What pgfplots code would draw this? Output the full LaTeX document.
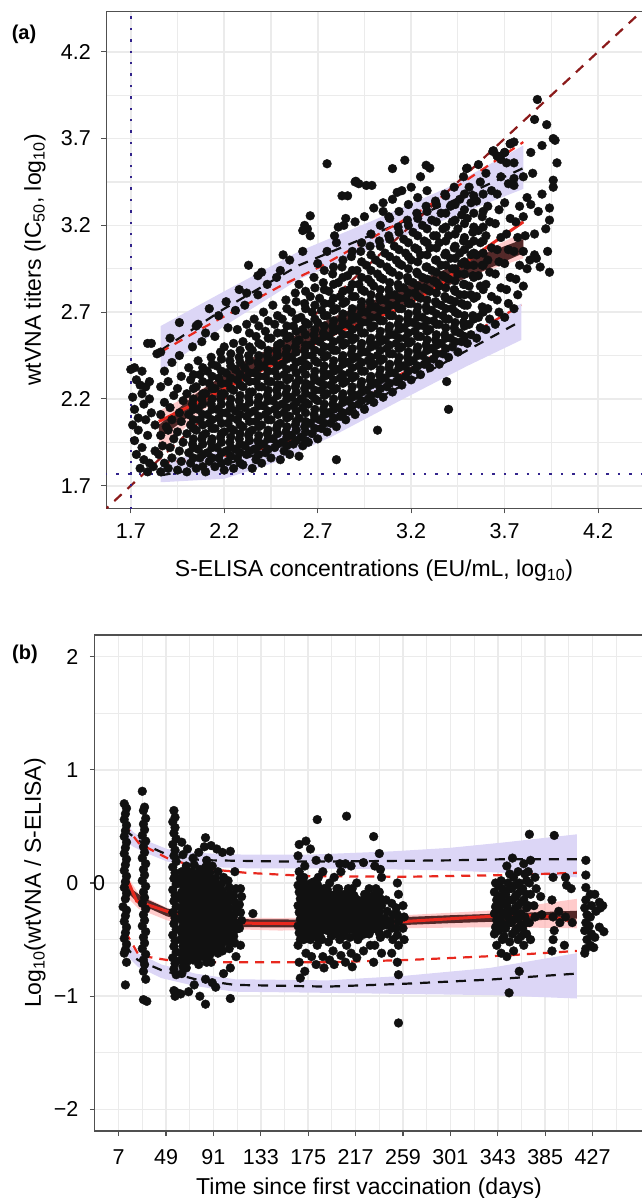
\documentclass[border=0pt]{standalone}
\usepackage{pgfplots}
\pgfplotsset{compat=1.18}
\usepackage{fontspec}
\setmainfont{Liberation Sans}
\definecolor{gridgray}{RGB}{235,235,235}
\definecolor{axgray}{RGB}{80,80,80}
\definecolor{lav}{RGB}{220,214,246}
\definecolor{pinkb}{RGB}{255,185,185}
\definecolor{darkb}{RGB}{66,24,24}
\definecolor{myred}{RGB}{232,40,30}
\definecolor{dred}{RGB}{139,26,26}
\definecolor{dblue}{RGB}{50,35,140}
\definecolor{ptblack}{RGB}{17,17,17}
\pgfplotsset{
  ggaxis/.style={
    scale only axis,
    axis line style={draw=axgray, line width=1.3pt},
    tick align=outside,
    major tick length=5pt,
    minor tick length=0pt,
    tick style={draw=axgray, line width=1.1pt},
    xtick pos=bottom, ytick pos=left,
    grid=both,
    major grid style={draw=gridgray, line width=1.7pt},
    minor grid style={draw=gridgray, line width=1.1pt},
    tick label style={font=\fontsize{21.5}{21.5}\selectfont, text=black},
    clip=true,
  },
  pts/.style={only marks, mark=*, mark size=4.4pt, mark options={draw=ptblack, fill=ptblack}},
  band/.style={draw=none, fill=#1},
  bdash/.style={draw=ptblack, line width=2.2pt, dash pattern=on 10pt off 8pt, no marks},
  rdash/.style={draw=myred, line width=2.2pt, dash pattern=on 9pt off 7pt, no marks},
}
\begin{document}
\begin{tikzpicture}
\useasboundingbox (0,0) rectangle (641pt,1198pt);
% ---------------- Panel (a)
\begin{axis}[ggaxis,
  at={(106.3pt,689.7pt)}, anchor=south west,
  width=541.7pt, height=496.6pt,
  xmin=1.569, xmax=4.467, ymin=1.570, ymax=4.431,
  xtick={1.7,2.2,2.7,3.2,3.7,4.2}, xticklabels={1.7,2.2,2.7,3.2,3.7,4.2},
  ytick={1.7,2.2,2.7,3.2,3.7,4.2}, yticklabels={1.7,2.2,2.7,3.2,3.7,4.2},
  minor xtick={1.95,2.45,2.95,3.45,3.95}, minor ytick={1.95,2.45,2.95,3.45,3.95},
  xticklabel style={yshift=-7pt}, yticklabel style={xshift=-7pt},
]
% lavender bands
\addplot[band=lav] coordinates {(1.86,2.62)(2.2,2.82)(2.6,3.05)(3.0,3.23)(3.4,3.42)(3.8,3.66)(3.8,3.41)(3.4,3.24)(3.0,3.07)(2.6,2.89)(2.2,2.62)(1.86,2.36)} -- cycle;
\addplot[band=lav] coordinates {(1.86,1.85)(2.2,1.90)(2.46,1.99)(2.77,2.14)(3.14,2.35)(3.5,2.57)(3.79,2.75)(3.79,2.54)(3.5,2.39)(3.14,2.19)(2.77,1.98)(2.46,1.83)(2.2,1.74)(1.86,1.72)} -- cycle;
% observations
\addplot[pts] coordinates {
(1.70,2.37)(1.72,2.38)(1.73,2.31)(1.75,2.28)(1.71,2.21)(1.76,2.23)(1.78,2.27)(1.80,2.30)(1.72,2.14)(1.74,2.09)(1.77,2.17)(1.80,2.20)(1.71,2.05)(1.74,2.02)(1.78,2.08)(1.81,2.12)(1.72,1.96)(1.76,1.92)(1.79,1.99)(1.73,1.88)(1.77,1.85)(1.80,1.83)(1.75,1.80)(1.79,1.78)(1.82,1.81)(1.83,1.90)(1.79,2.52)(1.81,2.52)(1.84,2.46)(1.83,2.05)(1.76,2.36)
(1.86,1.78)(1.88,1.83)(1.85,1.88)(1.87,1.93)(1.86,1.99)(1.89,2.04)(1.86,2.11)(1.88,2.18)(1.86,2.27)(1.88,2.36)(1.86,2.47)
(1.90,1.80)(1.92,1.86)(1.91,1.92)(1.93,1.97)(1.90,2.02)(1.92,2.08)(1.91,2.15)(1.93,2.22)(1.90,2.30)(1.92,2.41)(1.91,2.55)
(1.95,1.79)(1.97,1.84)(1.96,1.90)(1.98,1.95)(1.95,2.01)(1.97,2.07)(1.96,2.12)(1.98,2.19)(1.95,2.26)(1.97,2.33)(1.96,2.45)(1.96,2.64)
(2.00,1.78)(2.02,1.83)(2.01,1.89)(2.03,1.94)(2.00,2.00)(2.02,2.05)(2.01,2.11)(2.03,2.17)(2.00,2.23)(2.02,2.31)(2.01,2.38)(2.03,2.50)(2.05,2.62)
(2.05,1.80)(2.07,1.86)(2.06,1.91)(2.08,1.97)(2.05,2.02)(2.07,2.08)(2.06,2.14)(2.08,2.20)(2.05,2.27)(2.07,2.34)(2.06,2.42)(2.08,2.53)(2.06,2.63)
(2.10,1.78)(2.12,1.84)(2.11,1.89)(2.13,1.95)(2.10,2.00)(2.12,2.06)(2.11,2.11)(2.13,2.17)(2.10,2.23)(2.12,2.29)(2.11,2.36)(2.13,2.44)(2.10,2.58)(2.12,2.72)
(2.15,1.81)(2.17,1.86)(2.16,1.92)(2.18,1.98)(2.15,2.03)(2.17,2.09)(2.16,2.14)(2.18,2.20)(2.15,2.26)(2.17,2.32)(2.16,2.39)(2.18,2.47)(2.15,2.56)(2.17,2.68)
(2.20,1.79)(2.22,1.84)(2.21,1.90)(2.23,1.95)(2.20,2.01)(2.22,2.06)(2.21,2.12)(2.23,2.17)(2.20,2.23)(2.22,2.29)(2.21,2.35)(2.23,2.42)(2.20,2.50)(2.22,2.61)(2.21,2.76)
(2.25,1.80)(2.27,1.86)(2.26,1.91)(2.28,1.97)(2.25,2.02)(2.27,2.08)(2.26,2.13)(2.28,2.19)(2.25,2.25)(2.27,2.31)(2.26,2.37)(2.28,2.44)(2.25,2.52)(2.27,2.60)(2.26,2.71)(2.28,2.83)
(2.30,1.82)(2.32,1.88)(2.31,1.93)(2.33,1.99)(2.30,2.04)(2.32,2.10)(2.31,2.15)(2.33,2.21)(2.30,2.27)(2.32,2.32)(2.31,2.38)(2.33,2.45)(2.30,2.53)(2.32,2.63)(2.31,2.74)
(2.35,1.80)(2.37,1.85)(2.36,1.91)(2.38,1.96)(2.35,2.02)(2.37,2.07)(2.36,2.13)(2.38,2.18)(2.35,2.24)(2.37,2.30)(2.36,2.35)(2.38,2.41)(2.35,2.48)(2.37,2.56)(2.36,2.66)(2.38,2.80)
(2.40,1.83)(2.42,1.89)(2.41,1.94)(2.43,2.00)(2.40,2.05)(2.42,2.11)(2.41,2.16)(2.43,2.22)(2.40,2.27)(2.42,2.33)(2.41,2.39)(2.43,2.45)(2.40,2.51)(2.42,2.59)(2.41,2.70)(2.43,2.86)
(2.45,1.86)(2.47,1.92)(2.46,1.97)(2.48,2.03)(2.45,2.08)(2.47,2.14)(2.46,2.19)(2.48,2.25)(2.45,2.30)(2.47,2.36)(2.46,2.42)(2.48,2.48)(2.45,2.55)(2.47,2.63)(2.46,2.74)(2.48,2.90)
(2.50,1.85)(2.52,1.90)(2.51,1.95)(2.53,2.01)(2.50,2.06)(2.52,2.12)(2.51,2.17)(2.53,2.23)(2.50,2.28)(2.52,2.34)(2.51,2.40)(2.53,2.46)(2.50,2.52)(2.52,2.58)(2.51,2.66)(2.53,2.77)(2.50,2.94)
(2.55,1.88)(2.57,1.94)(2.56,1.99)(2.58,2.05)(2.55,2.10)(2.57,2.16)(2.56,2.21)(2.58,2.27)(2.55,2.32)(2.57,2.38)(2.56,2.44)(2.58,2.50)(2.55,2.56)(2.57,2.62)(2.56,2.70)(2.58,2.81)(2.55,3.00)
(2.60,1.87)(2.62,1.93)(2.61,1.98)(2.63,2.04)(2.60,2.09)(2.62,2.15)(2.61,2.20)(2.63,2.26)(2.60,2.31)(2.62,2.37)(2.61,2.42)(2.63,2.48)(2.60,2.54)(2.62,2.60)(2.61,2.67)(2.63,2.75)(2.60,2.86)(2.62,3.05)
(2.65,1.95)(2.67,2.00)(2.66,2.06)(2.68,2.11)(2.65,2.17)(2.67,2.22)(2.66,2.28)(2.68,2.33)(2.65,2.39)(2.67,2.45)(2.66,2.51)(2.68,2.57)(2.65,2.63)(2.67,2.70)(2.66,2.79)(2.68,2.90)
(2.70,1.97)(2.72,2.03)(2.71,2.08)(2.73,2.14)(2.70,2.19)(2.72,2.25)(2.71,2.30)(2.73,2.36)(2.70,2.41)(2.72,2.47)(2.71,2.53)(2.73,2.58)(2.70,2.64)(2.72,2.71)(2.71,2.78)(2.73,2.87)(2.70,2.98)
(2.80,1.85)(2.75,2.01)(2.77,2.06)(2.76,2.12)(2.78,2.17)(2.75,2.23)(2.77,2.28)(2.76,2.34)(2.78,2.39)(2.75,2.45)(2.77,2.50)(2.76,2.56)(2.78,2.62)(2.75,2.68)(2.77,2.75)(2.76,2.82)(2.78,2.92)(2.75,3.05)
(2.80,2.04)(2.82,2.10)(2.81,2.15)(2.83,2.21)(2.80,2.26)(2.82,2.32)(2.81,2.37)(2.83,2.43)(2.80,2.48)(2.82,2.54)(2.81,2.60)(2.83,2.66)(2.80,2.72)(2.82,2.79)(2.81,2.87)(2.83,2.96)(2.80,3.10)
(2.85,2.08)(2.87,2.13)(2.86,2.19)(2.88,2.24)(2.85,2.30)(2.87,2.35)(2.86,2.41)(2.88,2.46)(2.85,2.52)(2.87,2.57)(2.86,2.63)(2.88,2.69)(2.85,2.76)(2.87,2.83)(2.86,2.91)(2.88,3.02)
(2.90,2.11)(2.92,2.17)(2.91,2.22)(2.93,2.28)(2.90,2.33)(2.92,2.39)(2.91,2.44)(2.93,2.50)(2.90,2.55)(2.92,2.61)(2.91,2.67)(2.93,2.73)(2.90,2.79)(2.92,2.86)(2.91,2.94)(2.93,3.05)(2.90,3.22)
(2.95,2.14)(2.97,2.20)(2.96,2.25)(2.98,2.31)(2.95,2.36)(2.97,2.42)(2.96,2.47)(2.98,2.53)(2.95,2.58)(2.97,2.64)(2.96,2.70)(2.98,2.76)(2.95,2.82)(2.97,2.89)(2.96,2.97)(2.98,3.08)(2.95,3.25)
(3.02,2.02)(3.00,2.18)(3.02,2.23)(3.01,2.29)(3.03,2.34)(3.00,2.40)(3.02,2.45)(3.01,2.51)(3.03,2.56)(3.00,2.62)(3.02,2.67)(3.01,2.73)(3.03,2.79)(3.00,2.85)(3.02,2.92)(3.01,3.00)(3.03,3.11)(3.00,3.30)
(3.05,2.21)(3.07,2.27)(3.06,2.32)(3.08,2.38)(3.05,2.43)(3.07,2.49)(3.06,2.54)(3.08,2.60)(3.05,2.65)(3.07,2.71)(3.06,2.77)(3.08,2.83)(3.05,2.89)(3.07,2.96)(3.06,3.04)(3.08,3.14)(3.05,3.28)
(3.10,2.24)(3.12,2.30)(3.11,2.35)(3.13,2.41)(3.10,2.46)(3.12,2.52)(3.11,2.57)(3.13,2.63)(3.10,2.68)(3.12,2.74)(3.11,2.80)(3.13,2.86)(3.10,2.93)(3.12,3.00)(3.11,3.08)(3.13,3.19)(3.10,3.35)
(3.15,2.28)(3.17,2.33)(3.16,2.39)(3.18,2.44)(3.15,2.50)(3.17,2.55)(3.16,2.61)(3.18,2.66)(3.15,2.72)(3.17,2.78)(3.16,2.84)(3.18,2.90)(3.15,2.97)(3.17,3.04)(3.16,3.12)(3.18,3.23)(3.15,3.40)
(3.20,2.31)(3.22,2.37)(3.21,2.42)(3.23,2.48)(3.20,2.53)(3.22,2.59)(3.21,2.64)(3.23,2.70)(3.20,2.75)(3.22,2.81)(3.21,2.87)(3.23,2.93)(3.20,3.00)(3.22,3.07)(3.21,3.16)(3.23,3.27)(3.20,3.42)
(3.25,2.34)(3.27,2.40)(3.26,2.45)(3.28,2.51)(3.25,2.56)(3.27,2.62)(3.26,2.67)(3.28,2.73)(3.25,2.78)(3.27,2.84)(3.26,2.90)(3.28,2.96)(3.25,3.03)(3.27,3.11)(3.26,3.20)(3.28,3.31)(3.25,3.48)
(3.30,2.38)(3.32,2.43)(3.31,2.49)(3.33,2.54)(3.30,2.60)(3.32,2.65)(3.31,2.71)(3.33,2.76)(3.30,2.82)(3.32,2.88)(3.31,2.94)(3.33,3.00)(3.30,3.07)(3.32,3.14)(3.31,3.23)(3.33,3.34)(3.30,3.53)
(3.35,2.40)(3.37,2.46)(3.36,2.52)(3.38,2.57)(3.35,2.63)(3.37,2.68)(3.36,2.74)(3.38,2.79)(3.35,2.85)(3.37,2.91)(3.36,2.97)(3.38,3.03)(3.35,3.10)(3.37,3.18)(3.36,3.27)(3.38,3.38)
(3.40,2.14)(3.39,2.30)(3.40,2.44)(3.42,2.50)(3.41,2.55)(3.43,2.61)(3.40,2.66)(3.42,2.72)(3.41,2.77)(3.43,2.83)(3.40,2.89)(3.42,2.95)(3.41,3.01)(3.43,3.07)(3.40,3.14)(3.42,3.22)(3.41,3.31)(3.43,3.42)
(3.45,2.47)(3.47,2.53)(3.46,2.58)(3.48,2.64)(3.45,2.69)(3.47,2.75)(3.46,2.80)(3.48,2.86)(3.45,2.92)(3.47,2.98)(3.46,3.04)(3.48,3.11)(3.45,3.18)(3.47,3.26)(3.46,3.35)(3.48,3.48)
(3.50,2.52)(3.52,2.57)(3.51,2.63)(3.53,2.68)(3.50,2.74)(3.52,2.80)(3.51,2.85)(3.53,2.91)(3.50,2.97)(3.52,3.03)(3.51,3.09)(3.53,3.16)(3.50,3.24)(3.52,3.33)(3.51,3.42)(3.50,3.53)
(3.55,2.55)(3.57,2.61)(3.56,2.67)(3.58,2.73)(3.55,2.79)(3.57,2.85)(3.56,2.91)(3.58,2.97)(3.55,3.03)(3.57,3.10)(3.56,3.17)(3.58,3.25)(3.55,3.34)(3.57,3.45)(3.56,3.55)
(3.60,2.60)(3.62,2.66)(3.61,2.72)(3.63,2.79)(3.60,2.86)(3.62,2.93)(3.61,3.00)(3.63,3.07)(3.60,3.14)(3.62,3.22)(3.61,3.31)(3.63,3.40)(3.60,3.50)(3.64,3.63)
(3.65,2.63)(3.67,2.70)(3.66,2.77)(3.68,2.84)(3.65,2.92)(3.67,2.99)(3.66,3.06)(3.68,3.13)(3.65,3.21)(3.67,3.29)(3.66,3.38)(3.68,3.48)(3.66,3.60)(3.68,3.58)
(3.70,2.67)(3.72,2.75)(3.71,2.83)(3.73,2.90)(3.70,2.98)(3.72,3.06)(3.71,3.15)(3.73,3.24)(3.70,3.33)(3.72,3.44)(3.71,3.56)(3.70,3.62)(3.73,3.67)
(3.75,2.72)(3.77,2.80)(3.76,2.89)(3.78,2.97)(3.75,3.05)(3.77,3.13)(3.76,3.22)(3.78,3.31)(3.75,3.43)(3.75,3.47)(3.75,3.56)(3.75,3.68)
(3.80,2.85)(3.82,2.95)(3.80,3.05)(3.81,3.14)(3.80,3.25)(3.82,3.36)(3.80,3.48)
(3.875,3.925)(3.86,3.81)(3.925,3.78)(3.90,3.66)(3.96,3.70)(3.97,3.69)(3.98,3.56)(3.84,3.62)(3.85,3.50)(3.90,3.38)(3.96,3.46)(3.96,3.42)(3.94,3.30)(3.94,3.23)(3.86,3.15)(3.94,2.93)(3.86,3.03)(3.835,3.00)(3.87,3.01)(3.93,3.05)(3.88,3.28)(3.84,3.32)(3.92,3.18)(3.89,2.96)
(2.63,3.20)(2.62,3.17)(2.645,3.18)(2.66,3.255)(2.66,3.14)(2.75,3.555)(2.90,3.45)(2.92,3.44)(2.83,3.37)(2.81,3.19)(2.84,3.20)(2.85,3.24)(2.79,3.14)(2.515,3.03)(2.33,2.97)(2.40,2.93)(2.38,2.91)(2.32,2.81)(3.166,3.575)(3.10,3.527)(3.28,3.546)(2.904,3.454)(2.86,3.37)(2.96,3.43)(2.99,3.43)(3.125,3.39)(3.05,3.33)(3.08,3.25)(3.496,3.527)(3.637,3.626)(3.66,3.60)(3.70,3.62)(3.73,3.67)
(2.035,1.86)(2.035,1.92)(2.035,1.97)(2.035,2.03)(2.035,2.08)(2.035,2.14)(2.035,2.20)(2.035,2.26)(2.035,2.34)
(2.085,1.81)(2.085,1.88)(2.085,1.94)(2.085,1.99)(2.085,2.05)(2.085,2.11)(2.085,2.17)(2.085,2.23)(2.085,2.30)(2.085,2.38)
(2.135,1.86)(2.135,1.92)(2.135,1.97)(2.135,2.03)(2.135,2.08)(2.135,2.14)(2.135,2.20)(2.135,2.26)(2.135,2.33)(2.135,2.40)
(2.185,1.83)(2.185,1.89)(2.185,1.95)(2.185,2.00)(2.185,2.06)(2.185,2.12)(2.185,2.17)(2.185,2.23)(2.185,2.29)(2.185,2.36)(2.185,2.43)
(2.235,1.87)(2.235,1.92)(2.235,1.98)(2.235,2.03)(2.235,2.09)(2.235,2.15)(2.235,2.20)(2.235,2.26)(2.235,2.32)(2.235,2.39)(2.235,2.46)
(2.285,1.83)(2.285,1.89)(2.285,1.94)(2.285,2.00)(2.285,2.05)(2.285,2.11)(2.285,2.16)(2.285,2.22)(2.285,2.28)(2.285,2.34)(2.285,2.41)(2.285,2.48)
(2.335,1.90)(2.335,1.96)(2.335,2.01)(2.335,2.07)(2.335,2.12)(2.335,2.18)(2.335,2.24)(2.335,2.30)(2.335,2.35)(2.335,2.42)(2.335,2.50)(2.335,2.58)
(2.385,1.88)(2.385,1.93)(2.385,1.99)(2.385,2.04)(2.385,2.10)(2.385,2.16)(2.385,2.21)(2.385,2.27)(2.385,2.33)(2.385,2.38)(2.385,2.45)(2.385,2.52)(2.385,2.62)
(2.435,1.91)(2.435,1.97)(2.435,2.02)(2.435,2.08)(2.435,2.13)(2.435,2.19)(2.435,2.25)(2.435,2.30)(2.435,2.36)(2.435,2.42)(2.435,2.48)(2.435,2.55)(2.435,2.65)
(2.485,1.94)(2.485,2.00)(2.485,2.05)(2.485,2.11)(2.485,2.16)(2.485,2.22)(2.485,2.28)(2.485,2.33)(2.485,2.39)(2.485,2.45)(2.485,2.51)(2.485,2.58)(2.485,2.68)
(2.535,1.93)(2.535,1.98)(2.535,2.04)(2.535,2.09)(2.535,2.15)(2.535,2.20)(2.535,2.26)(2.535,2.31)(2.535,2.37)(2.535,2.43)(2.535,2.49)(2.535,2.55)(2.535,2.62)(2.535,2.72)
(2.585,1.96)(2.585,2.02)(2.585,2.07)(2.585,2.13)(2.585,2.18)(2.585,2.24)(2.585,2.29)(2.585,2.35)(2.585,2.41)(2.585,2.47)(2.585,2.53)(2.585,2.59)(2.585,2.66)(2.585,2.76)
(2.635,1.96)(2.635,2.01)(2.635,2.07)(2.635,2.12)(2.635,2.18)(2.635,2.23)(2.635,2.29)(2.635,2.34)(2.635,2.40)(2.635,2.45)(2.635,2.51)(2.635,2.57)(2.635,2.64)(2.635,2.72)(2.635,2.82)
(2.685,2.03)(2.685,2.09)(2.685,2.14)(2.685,2.20)(2.685,2.25)(2.685,2.31)(2.685,2.36)(2.685,2.42)(2.685,2.48)(2.685,2.54)(2.685,2.60)(2.685,2.66)(2.685,2.74)(2.685,2.84)
(2.735,2.06)(2.735,2.11)(2.735,2.17)(2.735,2.22)(2.735,2.28)(2.735,2.33)(2.735,2.39)(2.735,2.44)(2.735,2.50)(2.735,2.56)(2.735,2.62)(2.735,2.68)(2.735,2.75)(2.735,2.83)(2.735,2.94)
(2.785,2.09)(2.785,2.14)(2.785,2.20)(2.785,2.25)(2.785,2.31)(2.785,2.36)(2.785,2.42)(2.785,2.48)(2.785,2.53)(2.785,2.59)(2.785,2.65)(2.785,2.71)(2.785,2.78)(2.785,2.86)(2.785,2.96)
(2.835,2.12)(2.835,2.18)(2.835,2.23)(2.835,2.29)(2.835,2.34)(2.835,2.40)(2.835,2.45)(2.835,2.51)(2.835,2.57)(2.835,2.63)(2.835,2.69)(2.835,2.75)(2.835,2.82)(2.835,2.90)(2.835,3.00)
(2.885,2.16)(2.885,2.21)(2.885,2.27)(2.885,2.32)(2.885,2.38)(2.885,2.43)(2.885,2.49)(2.885,2.54)(2.885,2.60)(2.885,2.66)(2.885,2.72)(2.885,2.79)(2.885,2.86)(2.885,2.94)(2.885,3.05)
(2.935,2.19)(2.935,2.24)(2.935,2.30)(2.935,2.36)(2.935,2.41)(2.935,2.47)(2.935,2.52)(2.935,2.58)(2.935,2.64)(2.935,2.70)(2.935,2.76)(2.935,2.83)(2.935,2.90)(2.935,2.99)(2.935,3.10)
(2.985,2.22)(2.985,2.28)(2.985,2.33)(2.985,2.39)(2.985,2.44)(2.985,2.50)(2.985,2.55)(2.985,2.61)(2.985,2.67)(2.985,2.73)(2.985,2.80)(2.985,2.87)(2.985,2.94)(2.985,3.03)(2.985,3.15)
(3.035,2.26)(3.035,2.31)(3.035,2.37)(3.035,2.42)(3.035,2.48)(3.035,2.53)(3.035,2.59)(3.035,2.65)(3.035,2.71)(3.035,2.77)(3.035,2.83)(3.035,2.90)(3.035,2.98)(3.035,3.08)(3.035,3.20)
(3.085,2.29)(3.085,2.35)(3.085,2.40)(3.085,2.46)(3.085,2.51)(3.085,2.57)(3.085,2.62)(3.085,2.68)(3.085,2.74)(3.085,2.80)(3.085,2.87)(3.085,2.94)(3.085,3.02)(3.085,3.12)(3.085,3.24)
(3.135,2.32)(3.135,2.38)(3.135,2.44)(3.135,2.49)(3.135,2.55)(3.135,2.60)(3.135,2.66)(3.135,2.72)(3.135,2.78)(3.135,2.84)(3.135,2.91)(3.135,2.98)(3.135,3.06)(3.135,3.16)(3.135,3.28)
(3.185,2.36)(3.185,2.41)(3.185,2.47)(3.185,2.52)(3.185,2.58)(3.185,2.64)(3.185,2.69)(3.185,2.75)(3.185,2.81)(3.185,2.88)(3.185,2.95)(3.185,3.02)(3.185,3.10)(3.185,3.20)(3.185,3.32)
(3.235,2.39)(3.235,2.45)(3.235,2.50)(3.235,2.56)(3.235,2.62)(3.235,2.67)(3.235,2.73)(3.235,2.79)(3.235,2.85)(3.235,2.92)(3.235,2.99)(3.235,3.06)(3.235,3.14)(3.235,3.24)(3.235,3.36)
(3.285,2.42)(3.285,2.48)(3.285,2.54)(3.285,2.59)(3.285,2.65)(3.285,2.71)(3.285,2.77)(3.285,2.83)(3.285,2.89)(3.285,2.96)(3.285,3.03)(3.285,3.10)(3.285,3.18)(3.285,3.28)(3.285,3.40)
(3.335,2.46)(3.335,2.51)(3.335,2.57)(3.335,2.63)(3.335,2.69)(3.335,2.75)(3.335,2.81)(3.335,2.87)(3.335,2.93)(3.335,3.00)(3.335,3.07)(3.335,3.14)(3.335,3.22)(3.335,3.32)
(3.385,2.49)(3.385,2.55)(3.385,2.61)(3.385,2.66)(3.385,2.72)(3.385,2.78)(3.385,2.84)(3.385,2.90)(3.385,2.97)(3.385,3.04)(3.385,3.11)(3.385,3.19)(3.385,3.27)(3.385,3.37)
(3.435,2.53)(3.435,2.59)(3.435,2.64)(3.435,2.70)(3.435,2.76)(3.435,2.82)(3.435,2.88)(3.435,2.95)(3.435,3.01)(3.435,3.08)(3.435,3.15)(3.435,3.23)(3.435,3.32)
(3.485,2.56)(3.485,2.62)(3.485,2.68)(3.485,2.74)(3.485,2.80)(3.485,2.86)(3.485,2.92)(3.485,2.99)(3.485,3.06)(3.485,3.13)(3.485,3.21)(3.485,3.29)(3.485,3.38)
(3.535,2.66)(3.535,2.78)(3.535,2.90)(3.535,2.97)(3.535,3.04)(3.535,3.11)(3.535,3.19)(3.535,3.27)(3.535,3.37)
(3.585,2.70)(3.585,2.83)(3.585,2.97)(3.585,3.04)(3.585,3.11)(3.585,3.19)(3.585,3.28)(3.585,3.38)
};
% model CI bands
\addplot[band=pinkb, fill opacity=0.75] coordinates {(1.85,2.13)(2.05,2.24)(2.28,2.39)(2.55,2.54)(2.82,2.68)(3.05,2.78)(3.3,2.90)(3.55,3.03)(3.8,3.16)(3.8,3.01)(3.55,2.92)(3.3,2.82)(3.05,2.70)(2.82,2.60)(2.55,2.46)(2.28,2.30)(2.05,2.10)(1.85,1.88)} -- cycle;
\addplot[band=darkb, fill opacity=0.9] coordinates {(1.85,2.05)(2.05,2.23)(2.28,2.40)(2.55,2.55)(2.82,2.69)(3.05,2.79)(3.3,2.91)(3.55,3.02)(3.8,3.12)(3.8,3.04)(3.55,2.92)(3.3,2.81)(3.05,2.69)(2.82,2.59)(2.55,2.45)(2.28,2.30)(2.05,2.13)(1.85,1.97)} -- cycle;
% prediction interval lines
\addplot[bdash] coordinates {(1.86,2.48)(2.2,2.72)(2.6,2.97)(3.0,3.15)(3.4,3.33)(3.8,3.53)};
\addplot[bdash] coordinates {(1.86,1.76)(2.2,1.82)(2.46,1.91)(2.77,2.06)(3.14,2.27)(3.5,2.48)(3.79,2.65)};
\addplot[rdash] coordinates {(1.86,2.47)(2.07,2.6)(2.5,2.85)(2.71,2.96)(3.26,3.29)(3.8,3.68)};
\addplot[rdash] coordinates {(1.86,1.83)(2.2,1.87)(2.46,1.925)(2.67,2.02)(2.9,2.16)(3.14,2.34)(3.53,2.58)(3.79,2.74)};
\addplot[draw=myred, line width=3pt, no marks] coordinates {(1.85,2.07)(2.28,2.30)(2.82,2.59)(3.14,2.72)(3.35,2.85)(3.48,2.98)(3.8,3.22)};
% reference lines
\addplot[draw=dred, line width=2.2pt, dash pattern=on 10pt off 8pt, no marks] coordinates {(1.4,1.4)(4.6,4.6)};
\addplot[draw=dblue, line width=2.4pt, dash pattern=on 2.4pt off 9pt, no marks] coordinates {(1.7,1.5)(1.7,4.5)};
\addplot[draw=dblue, line width=2.4pt, dash pattern=on 2.4pt off 9pt, no marks] coordinates {(1.5,1.766)(4.5,1.766)};
\end{axis}
% ---------------- Panel (b)
\begin{axis}[ggaxis,
  at={(94.8pt,67pt)}, anchor=south west,
  width=553.2pt, height=496pt,
  xmin=-14.1, xmax=476.1, ymin=-2.19, ymax=2.19,
  xtick={7,49,91,133,175,217,259,301,343,385,427},
  xticklabels={7,49,91,133,175,217,259,301,343,385,427},
  ytick={-2,-1,0,1,2}, yticklabels={−2,−1,0,1,2},
  minor xtick={28,70,112,154,196,238,280,322,364,406,448}, minor ytick={-1.5,-0.5,0.5,1.5},
  xticklabel style={yshift=-10pt}, yticklabel style={xshift=-8pt},
]
\addplot[band=lav] coordinates {(12,0.55)(20,0.45)(30,0.38)(50,0.30)(70,0.27)(90,0.26)(120,0.25)(175,0.25)(250,0.28)(300,0.31)(350,0.36)(413,0.43)(413,0.05)(350,0.09)(300,0.11)(250,0.12)(175,0.13)(120,0.13)(90,0.14)(70,0.15)(50,0.19)(30,0.27)(20,0.32)(12,0.38)} -- cycle;
\addplot[band=lav] coordinates {(12,-0.50)(24,-0.62)(45,-0.72)(75,-0.80)(110,-0.85)(192,-0.86)(260,-0.82)(336,-0.75)(413,-0.62)(413,-1.02)(336,-0.99)(260,-0.98)(192,-0.97)(110,-0.96)(75,-0.91)(45,-0.84)(24,-0.74)(12,-0.62)} -- cycle;
\addplot[pts] coordinates {
(12,0.70)(14,0.66)(13,0.61)(12,0.56)(14,0.51)(13,0.46)(12,0.41)(14,0.36)(13,0.31)(12,0.26)(14,0.21)(13,0.16)(12,0.11)(14,0.06)(13,0.01)(12,-0.04)(14,-0.09)(13,-0.14)(11,-0.21)(14,-0.24)(13,-0.29)(12,-0.34)(14,-0.39)(13,-0.44)(12,-0.49)(14,-0.54)(13,-0.59)(12,-0.62)(14,-0.70)(13,-0.90)
(28,0.81)(30,0.67)(29,0.64)(31,0.57)(29,0.52)(30,0.47)(28,0.42)(31,0.37)(29,0.32)(30,0.27)(28,0.22)(31,0.17)(29,0.12)(30,0.07)(28,0.02)(31,-0.03)(29,-0.08)(30,-0.13)(28,-0.18)(31,-0.23)(29,-0.28)(30,-0.33)(28,-0.38)(31,-0.43)(29,-0.48)(30,-0.53)(28,-0.58)(31,-0.63)(29,-0.68)(30,-0.72)(29,-0.78)(31,-0.85)(29,-1.03)(32,-1.045)
(56,0.64)(57,0.58)(55,0.54)(57,0.49)(56,0.44)(58,0.39)(55,0.34)(57,0.29)(56,0.24)(58,0.19)(55,0.14)(57,0.09)(56,0.04)(58,-0.01)(55,-0.06)(57,-0.11)(56,-0.16)(58,-0.21)(55,-0.26)(57,-0.31)(56,-0.36)(58,-0.41)(55,-0.46)(57,-0.51)(56,-0.56)(58,-0.61)(55,-0.66)(57,-0.71)(56,-0.76)(58,-0.81)(56,-0.95)(57,-1.00)(59,-0.97)
(63,0.36)(64,0.25)(63,0.10)(62,0.04)(64,-0.02)(63,-0.08)(62,-0.14)(64,-0.20)(63,-0.26)(62,-0.32)(64,-0.38)(63,-0.44)(62,-0.50)(64,-0.56)(63,-0.62)(62,-0.68)(64,-0.74)(63,-0.80)(62,-0.98)
(68,0.30)(67,0.15)(69,0.09)(68,0.03)(67,-0.03)(69,-0.09)(68,-0.15)(67,-0.21)(69,-0.27)(68,-0.33)(67,-0.39)(69,-0.45)(68,-0.51)(67,-0.57)(69,-0.63)(68,-0.69)(67,-0.75)(69,-0.96)
(73,0.22)(74,0.16)(72,0.10)(73,0.04)(74,-0.02)(72,-0.08)(73,-0.14)(74,-0.20)(72,-0.26)(73,-0.32)(74,-0.38)(72,-0.44)(73,-0.50)(74,-0.56)(72,-0.62)(73,-0.68)(74,-0.90)
(78,0.27)(79,0.12)(77,0.06)(78,0.00)(79,-0.06)(77,-0.12)(78,-0.18)(79,-0.24)(77,-0.30)(78,-0.36)(79,-0.42)(77,-0.48)(78,-0.54)(79,-0.60)(77,-0.66)(78,-0.72)(79,-1.00)
(84,0.40)(83,0.32)(85,0.20)(84,0.14)(83,0.08)(85,0.02)(84,-0.04)(83,-0.10)(85,-0.16)(84,-0.22)(83,-0.28)(85,-0.34)(84,-0.40)(83,-0.46)(85,-0.52)(84,-0.58)(83,-0.64)(85,-0.70)(84,-0.85)(84,-1.07)
(89,0.33)(90,0.15)(88,0.09)(89,0.03)(90,-0.03)(88,-0.09)(89,-0.15)(90,-0.21)(88,-0.27)(89,-0.33)(90,-0.39)(88,-0.45)(89,-0.51)(90,-0.57)(88,-0.63)(89,-0.70)(90,-0.88)
(94,0.30)(95,0.10)(93,0.04)(94,-0.02)(95,-0.08)(93,-0.14)(94,-0.20)(95,-0.26)(93,-0.32)(94,-0.38)(95,-0.44)(93,-0.50)(94,-0.56)(95,-0.62)(93,-0.92)
(99,0.27)(100,0.05)(98,-0.01)(99,-0.07)(100,-0.13)(98,-0.19)(99,-0.25)(100,-0.31)(98,-0.37)(99,-0.43)(100,-0.49)(98,-0.55)(99,-0.60)(100,-0.80)
(106,0.28)(104,0.02)(105,-0.04)(106,-0.10)(104,-0.16)(105,-0.22)(106,-0.28)(104,-0.34)(105,-0.40)(106,-0.46)(104,-0.52)(105,-0.58)(106,-0.75)(106,-1.02)
(110,0.10)(111,-0.05)(109,-0.11)(110,-0.17)(111,-0.23)(109,-0.29)(110,-0.35)(111,-0.41)(109,-0.47)(110,-0.53)(111,-0.65)
(115,-0.05)(116,-0.12)(114,-0.19)(115,-0.26)(116,-0.33)(114,-0.40)(115,-0.55)(126,-0.27)
(65.5,0.07)(65.5,0.01)(65.5,-0.05)(65.5,-0.11)(65.5,-0.17)(65.5,-0.23)(65.5,-0.29)(65.5,-0.35)(65.5,-0.41)(65.5,-0.47)(65.5,-0.53)(65.5,-0.59)(65.5,-0.65)
(70.5,0.07)(70.5,0.01)(70.5,-0.05)(70.5,-0.11)(70.5,-0.17)(70.5,-0.23)(70.5,-0.29)(70.5,-0.35)(70.5,-0.41)(70.5,-0.47)(70.5,-0.53)(70.5,-0.59)(70.5,-0.65)
(75.5,0.07)(75.5,0.01)(75.5,-0.05)(75.5,-0.11)(75.5,-0.17)(75.5,-0.23)(75.5,-0.29)(75.5,-0.35)(75.5,-0.41)(75.5,-0.47)(75.5,-0.53)(75.5,-0.59)(75.5,-0.65)
(81,0.07)(81,0.01)(81,-0.05)(81,-0.11)(81,-0.17)(81,-0.23)(81,-0.29)(81,-0.35)(81,-0.41)(81,-0.47)(81,-0.53)(81,-0.59)(81,-0.65)
(86.5,0.07)(86.5,0.01)(86.5,-0.05)(86.5,-0.11)(86.5,-0.17)(86.5,-0.23)(86.5,-0.29)(86.5,-0.35)(86.5,-0.41)(86.5,-0.47)(86.5,-0.53)(86.5,-0.59)(86.5,-0.65)
(91.5,0.01)(91.5,-0.05)(91.5,-0.11)(91.5,-0.17)(91.5,-0.23)(91.5,-0.29)(91.5,-0.35)(91.5,-0.41)(91.5,-0.47)(91.5,-0.53)(91.5,-0.59)
(96.5,-0.05)(96.5,-0.11)(96.5,-0.17)(96.5,-0.23)(96.5,-0.29)(96.5,-0.35)(96.5,-0.41)(96.5,-0.47)(96.5,-0.53)
(102,-0.11)(102,-0.17)(102,-0.23)(102,-0.29)(102,-0.35)(102,-0.41)(102,-0.47)
(167,0.34)(166,0.24)(167,0.10)(168,0.04)(166,-0.02)(167,-0.08)(168,-0.14)(166,-0.20)(167,-0.26)(168,-0.32)(166,-0.38)(167,-0.44)(168,-0.50)(166,-0.55)(167,-0.70)(168,-0.84)
(173,0.37)(172,0.15)(171,0.05)(173,-0.01)(172,-0.07)(171,-0.13)(173,-0.19)(172,-0.25)(171,-0.31)(173,-0.37)(172,-0.43)(171,-0.50)(173,-0.62)(172,-0.78)
(177,0.30)(178,0.00)(176,-0.06)(177,-0.12)(178,-0.18)(176,-0.24)(177,-0.30)(178,-0.36)(176,-0.42)(177,-0.50)(178,-0.65)
(183,0.56)(182,0.20)(184,0.05)(183,-0.01)(182,-0.07)(184,-0.13)(183,-0.19)(182,-0.25)(184,-0.31)(183,-0.37)(182,-0.43)(184,-0.49)(183,-0.55)(182,-0.72)
(188,0.10)(189,-0.05)(187,-0.11)(188,-0.17)(189,-0.23)(187,-0.29)(188,-0.35)(189,-0.41)(187,-0.50)(188,-0.65)(189,-0.75)
(193,0.22)(194,0.00)(192,-0.06)(193,-0.12)(194,-0.18)(192,-0.24)(193,-0.30)(194,-0.36)(192,-0.42)(193,-0.52)(194,-0.68)
(198,0.05)(199,-0.10)(197,-0.16)(198,-0.22)(199,-0.28)(197,-0.34)(198,-0.40)(199,-0.45)(197,-0.60)(198,-0.72)
(203,0.17)(204,0.10)(202,-0.05)(203,-0.11)(204,-0.17)(202,-0.23)(203,-0.29)(204,-0.35)(202,-0.41)(203,-0.50)(204,-0.64)
(209,0.59)(208,0.17)(207,-0.10)(209,-0.16)(208,-0.22)(207,-0.28)(209,-0.34)(208,-0.40)(207,-0.46)(209,-0.55)(208,-0.70)
(213,0.15)(214,-0.05)(212,-0.11)(213,-0.17)(214,-0.23)(212,-0.29)(213,-0.35)(214,-0.41)(212,-0.48)(213,-0.62)(214,-0.74)
(218,0.00)(219,-0.15)(217,-0.21)(218,-0.27)(219,-0.33)(217,-0.39)(218,-0.45)(219,-0.50)(218,-0.66)
(224,0.18)(225,-0.10)(223,-0.16)(224,-0.22)(225,-0.28)(223,-0.34)(224,-0.40)(225,-0.45)(224,-0.60)
(229,-0.05)(230,-0.15)(228,-0.21)(229,-0.27)(230,-0.33)(228,-0.39)(229,-0.45)(230,-0.55)
(233,0.41)(234,0.15)(235,-0.05)(233,-0.11)(234,-0.17)(235,-0.23)(233,-0.29)(234,-0.35)(235,-0.40)(234,-0.55)(233,-0.70)
(238,0.26)(239,0.12)(240,0.05)(238,-0.08)(239,-0.14)(240,-0.20)(238,-0.26)(239,-0.32)(240,-0.38)(238,-0.44)(239,-0.48)(240,-0.62)
(244,-0.15)(245,-0.25)(243,-0.31)(244,-0.37)(245,-0.45)
(249,-0.18)(250,-0.28)(248,-0.34)(249,-0.40)(250,-0.50)(249,-0.62)
(254,0.00)(255,-0.10)(253,-0.22)(254,-0.28)(255,-0.34)(253,-0.40)(254,-0.46)(255,-0.55)(254,-0.70)(255,-0.81)(255,-1.236)
(259,-0.20)(260,-0.30)(259,-0.40)(260,-0.50)
(169.5,0.01)(169.5,-0.05)(169.5,-0.11)(169.5,-0.17)(169.5,-0.23)(169.5,-0.29)(169.5,-0.35)(169.5,-0.41)(169.5,-0.47)
(174.5,-0.05)(174.5,-0.11)(174.5,-0.17)(174.5,-0.23)(174.5,-0.29)(174.5,-0.35)(174.5,-0.41)(174.5,-0.47)
(180,0.01)(180,-0.05)(180,-0.11)(180,-0.17)(180,-0.23)(180,-0.29)(180,-0.35)(180,-0.41)(180,-0.47)
(185.5,-0.05)(185.5,-0.11)(185.5,-0.17)(185.5,-0.23)(185.5,-0.29)(185.5,-0.35)(185.5,-0.41)(185.5,-0.47)
(190.5,-0.05)(190.5,-0.11)(190.5,-0.17)(190.5,-0.23)(190.5,-0.29)(190.5,-0.35)(190.5,-0.41)
(195.5,-0.11)(195.5,-0.17)(195.5,-0.23)(195.5,-0.29)(195.5,-0.35)(195.5,-0.41)(195.5,-0.47)
(200.5,-0.05)(200.5,-0.11)(200.5,-0.17)(200.5,-0.23)(200.5,-0.29)(200.5,-0.35)(200.5,-0.41)
(205.5,-0.11)(205.5,-0.17)(205.5,-0.23)(205.5,-0.29)(205.5,-0.35)(205.5,-0.41)(205.5,-0.47)
(210.5,-0.05)(210.5,-0.11)(210.5,-0.17)(210.5,-0.23)(210.5,-0.29)(210.5,-0.35)(210.5,-0.41)
(215.5,-0.11)(215.5,-0.17)(215.5,-0.23)(215.5,-0.29)(215.5,-0.35)(215.5,-0.41)
(221,-0.17)(221,-0.23)(221,-0.29)(221,-0.35)(221,-0.41)(221,-0.47)
(226.5,-0.11)(226.5,-0.17)(226.5,-0.23)(226.5,-0.29)(226.5,-0.35)
(231.5,-0.17)(231.5,-0.23)(231.5,-0.29)(231.5,-0.35)(231.5,-0.41)
(236.5,-0.11)(236.5,-0.17)(236.5,-0.23)(236.5,-0.29)(236.5,-0.35)
(341,0.00)(340,-0.08)(342,-0.15)(341,-0.21)(340,-0.27)(342,-0.33)(341,-0.39)(340,-0.45)(342,-0.55)
(346,0.02)(347,-0.05)(345,-0.12)(346,-0.19)(347,-0.26)(345,-0.33)(346,-0.40)(347,-0.50)(346,-0.62)
(351,0.15)(352,0.00)(350,-0.10)(351,-0.20)(352,-0.30)(350,-0.40)(351,-0.65)(353,-0.97)
(356,0.22)(357,0.05)(355,-0.05)(356,-0.15)(357,-0.25)(355,-0.35)(356,-0.45)(357,-0.60)
(361,0.10)(362,0.00)(360,-0.10)(361,-0.20)(362,-0.30)(360,-0.40)(361,-0.50)(362,-0.78)
(366,0.17)(367,0.08)(365,-0.05)(366,-0.15)(367,-0.30)(365,-0.40)(366,-0.55)
(371,0.43)(372,0.20)(370,0.10)(371,0.00)(372,-0.10)(370,-0.20)(371,-0.35)(372,-0.50)
(376,0.05)(377,-0.05)(375,-0.20)(376,-0.30)(381,-0.12)(382,-0.28)
(343.5,-0.02)(343.5,-0.12)(343.5,-0.22)(343.5,-0.32)(343.5,-0.42)
(348.5,-0.07)(348.5,-0.17)(348.5,-0.27)(348.5,-0.37)(348.5,-0.47)
(353.5,0.08)(353.5,-0.05)(353.5,-0.15)(353.5,-0.25)(353.5,-0.35)(353.5,-0.52)
(358.5,-0.02)(358.5,-0.12)(358.5,-0.22)(358.5,-0.32)(358.5,-0.42)
(363.5,-0.07)(363.5,-0.17)(363.5,-0.27)(363.5,-0.37)(363.5,-0.47)
(368.5,0.02)(368.5,-0.10)(368.5,-0.22)(368.5,-0.35)(368.5,-0.45)
(393,0.42)(392,0.05)(391,-0.15)(392,-0.30)(393,-0.42)(392,-0.50)(391,-0.60)
(397,-0.25)(398,-0.35)(403,0.05)(404,-0.02)(403,-0.30)(402,-0.55)(408,-0.05)(409,-0.35)
(421,0.20)(421,0.07)(421,-0.04)(421,-0.15)(420,-0.22)(422,-0.28)(421,-0.35)(420,-0.42)(422,-0.50)(421,-0.58)(420,-0.62)
(425,-0.10)(426,-0.20)(425,-0.30)(424,-0.38)(426,-0.45)(425,-0.55)
(429,-0.10)(430,-0.25)(429,-0.48)(428,-0.57)(433,-0.17)(434,-0.22)(433,-0.39)(436,-0.20)(437,-0.43)
};
\addplot[band=pinkb, fill opacity=0.75] coordinates {(12,0.10)(25,-0.10)(50,-0.22)(77,-0.30)(150,-0.31)(250,-0.29)(343,-0.24)(413,-0.14)(413,-0.40)(343,-0.39)(250,-0.40)(150,-0.42)(77,-0.40)(50,-0.33)(25,-0.23)(12,-0.10)} -- cycle;
\addplot[band=darkb, fill opacity=0.9] coordinates {(12,0.015)(20,-0.065)(30,-0.135)(50,-0.225)(77,-0.295)(120,-0.32)(200,-0.325)(300,-0.285)(360,-0.265)(413,-0.245)(413,-0.315)(360,-0.335)(300,-0.355)(200,-0.395)(120,-0.39)(77,-0.365)(50,-0.295)(30,-0.205)(20,-0.135)(12,-0.055)} -- cycle;
\addplot[bdash] coordinates {(12,0.47)(20,0.41)(30,0.34)(50,0.25)(70,0.21)(90,0.20)(150,0.19)(200,0.19)(300,0.20)(350,0.21)(413,0.21)};
\addplot[bdash] coordinates {(12,-0.55)(24,-0.68)(45,-0.77)(75,-0.85)(110,-0.90)(192,-0.915)(260,-0.89)(336,-0.853)(413,-0.80)};
\addplot[rdash] coordinates {(12,0.52)(25,0.35)(50,0.22)(79,0.13)(120,0.09)(177,0.06)(263,0.055)(350,0.07)(413,0.09)};
\addplot[rdash] coordinates {(13,-0.43)(25,-0.64)(50,-0.68)(76,-0.70)(192,-0.70)(263,-0.68)(350,-0.64)(413,-0.60)};
\addplot[draw=myred, line width=3pt, no marks] coordinates {(13,0.07)(23,-0.16)(50,-0.25)(75,-0.33)(120,-0.355)(177,-0.36)(260,-0.34)(362,-0.28)(390,-0.30)(410,-0.34)};
\end{axis}
% ---------------- texts
\node[font=\bfseries\fontsize{20}{20}\selectfont] at (24pt,1164pt) {(a)};
\node[font=\bfseries\fontsize{20}{20}\selectfont] at (25pt,544pt) {(b)};
\node[rotate=90, font=\fontsize{23}{23}\selectfont] at (35pt,938pt) {wtVNA titers (IC\textsubscript{50}, log\textsubscript{10})};
\node[font=\fontsize{23}{23}\selectfont] at (374pt,627pt) {S-ELISA concentrations (EU/mL, log\textsubscript{10})};
\node[rotate=90, font=\fontsize{23}{23}\selectfont] at (35pt,315pt) {Log\textsubscript{10}(wtVNA / S-ELISA)};
\node[font=\fontsize{23}{23}\selectfont, anchor=base] at (369pt,4pt) {Time since first vaccination (days)};
\node[font=\fontsize{21.5}{21.5}\selectfont] at (99pt,315pt) {0};
\end{tikzpicture}
\end{document}
